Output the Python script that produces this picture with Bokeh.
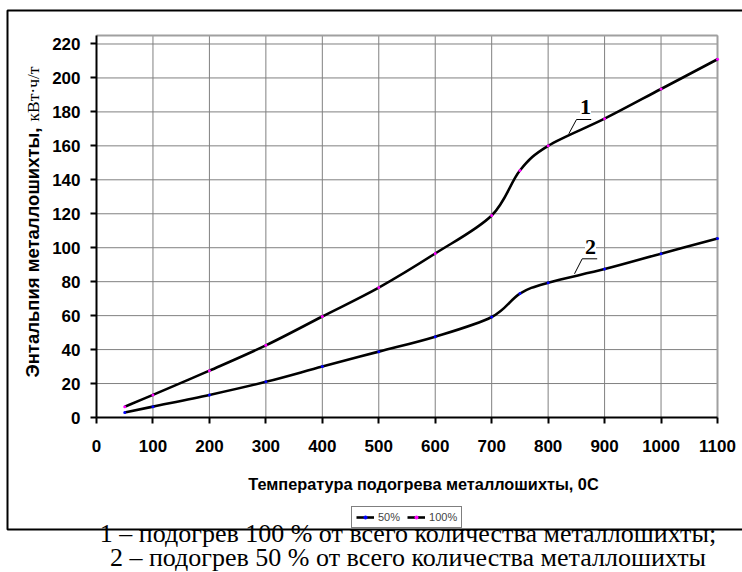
import math
from bokeh.plotting import figure
from bokeh.models import (Range1d, FixedTicker, Label, BoxAnnotation, Legend, LegendItem,
                          LinearAxis)
from bokeh.embed import file_html
from bokeh.resources import INLINE

# ---------------- data ----------------
temps = [50, 100, 200, 300, 400, 500, 600, 700, 750, 800, 900, 1000, 1100]
h100 = [6.4, 13.3, 27.6, 42.5, 59.5, 76.5, 96.6, 119.0, 145.5, 160.0, 176.0, 193.5, 211.0]
h50 = [2.9, 6.4, 13.3, 21.0, 30.0, 38.8, 47.6, 59.2, 73.0, 79.4, 87.4, 96.5, 105.5]
series_names = ["50%", "100%"]
x_ticks = [0, 100, 200, 300, 400, 500, 600, 700, 800, 900, 1000, 1100]
y_ticks = [0, 20, 40, 60, 80, 100, 120, 140, 160, 180, 200, 220]

x_title = "Температура подогрева металлошихты, 0С"
y_title_sans = "Энтальпия металлошихты,"
y_title_serif = "кВт·ч/т"
caption1 = "1 – подогрев 100 % от всего количества металлошихты;"
caption2 = "2 – подогрев 50 % от всего количества металлошихты"

# ---------------- geometry (canvas pixels of the plot area) ----------------
W, H = 742, 572
FL, FR, FT, FB = 96, 717, 35, 417
X0, X1, Y0, Y1 = 0, 1100, 0, 225

def dx(px):
    return X0 + (px - FL) / (FR - FL) * (X1 - X0)

def dy(py):
    return Y0 + (FB - py) / (FB - FT) * (Y1 - Y0)

SANS = "Liberation Sans"
SERIF = "Liberation Serif"

# the frame covers the whole canvas; the chart area lives inside it
p = figure(width=W, height=H, x_range=Range1d(dx(0), dx(W)), y_range=Range1d(dy(H), dy(0)),
           output_backend="svg", toolbar_location=None,
           x_axis_location=None, y_axis_location=None, min_border=0)
p.background_fill_color = "white"
p.border_fill_color = "white"
p.outline_line_color = None
p.xgrid.visible = False
p.ygrid.visible = False

# ---------------- grid and plot-area border ----------------
gx = [t for t in x_ticks if t > X0]
gy = [t for t in y_ticks if t > Y0]
p.segment(x0=gx, y0=[Y0] * len(gx), x1=gx, y1=[Y1] * len(gx), line_color="#808080", line_width=1)
p.segment(x0=[X0] * len(gy), y0=gy, x1=[X1] * len(gy), y1=gy, line_color="#808080", line_width=1)
p.segment(x0=[X0, X1], y0=[Y1, Y0], x1=[X1, X1], y1=[Y1, Y1], line_color="#a0a0a0", line_width=2)

# ---------------- axes (fixed at the origin) ----------------
xax = LinearAxis(fixed_location=0, bounds=(X0, X1), ticker=FixedTicker(ticks=x_ticks))
yax = LinearAxis(fixed_location=0, bounds=(Y0, Y1), ticker=FixedTicker(ticks=y_ticks))
for ax in (xax, yax):
    ax.axis_line_color = "black"
    ax.axis_line_width = 2
    ax.major_tick_line_color = "black"
    ax.major_tick_line_width = 2
    ax.major_tick_in = 0
    ax.major_tick_out = 6
    ax.minor_tick_line_color = None
    ax.major_label_text_font = SANS
    ax.major_label_text_font_style = "bold"
    ax.major_label_text_font_size = "17px"
    ax.major_label_text_color = "black"
xax.major_label_standoff = 16
yax.major_label_standoff = 10
p.add_layout(xax, "below")
p.add_layout(yax, "left")

# ---------------- smoothed curves (Bezier through the data points) ----------------
def bez(xs, ys):
    n = len(xs)
    out = dict(x0=[], y0=[], x1=[], y1=[], cx0=[], cy0=[], cx1=[], cy1=[])
    for i in range(n - 1):
        ip = max(i - 1, 0)
        i2 = min(i + 2, n - 1)
        out["x0"].append(xs[i]); out["y0"].append(ys[i])
        out["x1"].append(xs[i + 1]); out["y1"].append(ys[i + 1])
        out["cx0"].append(xs[i] + (xs[i + 1] - xs[ip]) / 6.0)
        out["cy0"].append(ys[i] + (ys[i + 1] - ys[ip]) / 6.0)
        out["cx1"].append(xs[i + 1] - (xs[i2] - xs[i]) / 6.0)
        out["cy1"].append(ys[i + 1] - (ys[i2] - ys[i]) / 6.0)
    return out

b50 = p.bezier(source=bez(temps, h50), x0="x0", y0="y0", x1="x1", y1="y1",
               cx0="cx0", cy0="cy0", cx1="cx1", cy1="cy1",
               line_color="black", line_width=2.6)
b100 = p.bezier(source=bez(temps, h100), x0="x0", y0="y0", x1="x1", y1="y1",
                cx0="cx0", cy0="cy0", cx1="cx1", cy1="cy1",
                line_color="black", line_width=2.6)
m50 = p.scatter(temps, h50, size=3, color="#0000ff", line_width=0)
m100 = p.scatter(temps, h100, size=3, color="#ff00ff", line_width=0)

# ---------------- curve labels with leaders ----------------
p.line([dx(568.3), dx(576), dx(590.7)], [dy(133.3), dy(119), dy(119)], line_color="black", line_width=1)
p.line([dx(574), dx(581.7), dx(596.7)], [dy(273.3), dy(258.3), dy(258.3)], line_color="black", line_width=1)
p.add_layout(Label(x=dx(585), y=dy(106.5), text="1", text_align="center", text_baseline="middle",
                   text_font=SERIF, text_font_style="bold", text_font_size="22px",
                   text_color="black", background_fill_color="white"))
p.add_layout(Label(x=dx(590), y=dy(246.5), text="2", text_align="center", text_baseline="middle",
                   text_font=SERIF, text_font_style="bold", text_font_size="22px",
                   text_color="black", background_fill_color="white"))

# ---------------- axis titles ----------------
p.add_layout(Label(x=dx(423), y=dy(483.5), text=x_title, text_align="center",
                   text_baseline="middle", text_font=SANS, text_font_style="bold",
                   text_font_size="16.3px", text_color="black"))
p.add_layout(Label(x=dx(32), y=dy(127), text=y_title_sans, angle=math.pi / 2,
                   text_align="right", text_baseline="middle", text_font=SANS,
                   text_font_style="bold", text_font_size="18.5px", text_color="black"))
p.add_layout(Label(x=dx(32.5), y=dy(121), text=y_title_serif, angle=math.pi / 2,
                   text_align="left", text_baseline="middle", text_font=SERIF,
                   text_font_size="17.5px", text_color="black"))

# ---------------- outer frame ----------------
p.add_layout(BoxAnnotation(left=dx(7), right=dx(780), top=dy(10), bottom=dy(529),
                           fill_alpha=0, fill_color=None, line_color="black", line_width=2,
                           line_alpha=1))

# ---------------- legend ----------------
legend = Legend(items=[LegendItem(label=series_names[0], renderers=[b50, m50]),
                       LegendItem(label=series_names[1], renderers=[b100, m100])],
                orientation="horizontal", location=(351, H - 528),
                label_text_font=SANS, label_text_font_size="11px",
                glyph_width=18, glyph_height=10, label_standoff=4, spacing=7,
                padding=4, margin=0, border_line_color="black", border_line_width=1,
                background_fill_color="white", background_fill_alpha=1,
                label_height=11)
p.add_layout(legend, "center")

# ---------------- caption ----------------
p.add_layout(Label(x=dx(407.5), y=dy(532.5), text=caption1, text_align="center",
                   text_baseline="middle", text_font=SERIF, text_font_size="26px",
                   text_color="black"))
p.add_layout(Label(x=dx(407.5), y=dy(557), text=caption2, text_align="center",
                   text_baseline="middle", text_font=SERIF, text_font_size="26px",
                   text_color="black"))

open("out.html", "w").write(file_html(p, INLINE))
